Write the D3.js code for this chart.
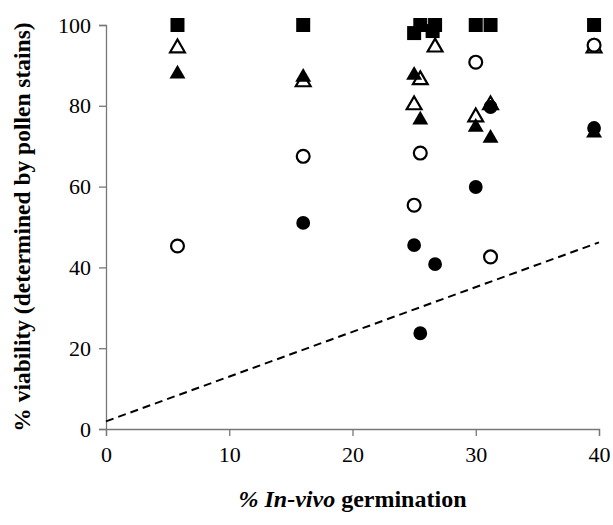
<!DOCTYPE html>
<html>
<head>
<meta charset="utf-8">
<script src="https://cdn.jsdelivr.net/npm/d3@7/dist/d3.min.js"></script>
<style>
  body { margin: 0; background: #fff; }
  svg { display: block; }
</style>
</head>
<body>
<div id="chart"></div>
<script>
// Data: [% in-vivo germination, % viability]
const filledSquares = [[5.8, 100], [16, 100], [25.0, 98], [25.5, 100], [26.7, 100], [26.5, 98.5], [30.0, 100], [31.2, 100], [39.6, 100]];
const openTriangles = [[5.8, 94.3], [16, 85.9], [25.0, 80.2], [25.5, 86.4], [26.7, 94.5], [30.0, 77.2], [31.2, 80.2], [39.6, 94.3]];
const filledTriangles = [[5.8, 87.9], [16, 87.1], [25.0, 87.6], [25.5, 76.5], [30.0, 74.7], [31.2, 72], [39.6, 73.3]];
const openCircles = [[5.8, 45.3], [16, 67.5], [25.0, 55.4], [25.5, 68.3], [30.0, 90.8], [31.2, 42.6], [39.6, 95]];
const filledCircles = [[16, 51], [25.0, 45.5], [25.5, 23.7], [26.7, 40.8], [30.0, 59.9], [31.2, 79.7], [39.6, 74.5]];
const refLine = [[0, 1.9], [40, 46.2]];

const xTicks = [0, 10, 20, 30, 40];
const yTicks = [0, 20, 40, 60, 80, 100];

const width = 613, height = 525;
const margin = { top: 25, right: 14, bottom: 96, left: 106 };

const svg = d3.select('#chart').append('svg')
    .attr('width', width)
    .attr('height', height);

const x = d3.scaleLinear().domain([0, 40]).range([margin.left, width - margin.right]);
const y = d3.scaleLinear().domain([0, 100]).range([height - margin.bottom, margin.top]);

const font = '"Liberation Serif", "Times New Roman", serif';

// Axes
const xAxis = svg.append('g')
    .attr('transform', `translate(0,${y(0)})`)
    .call(d3.axisBottom(x).tickValues(xTicks).tickSize(7).tickPadding(10).tickFormat(d3.format('d')));
const yAxis = svg.append('g')
    .attr('transform', `translate(${x(0)},0)`)
    .call(d3.axisLeft(y).tickValues(yTicks).tickSize(7).tickPadding(8).tickFormat(d3.format('d')));

[xAxis, yAxis].forEach(a => {
    a.select('.domain').attr('stroke', '#777').attr('stroke-width', 1.3);
    a.selectAll('.tick line').attr('stroke', '#777').attr('stroke-width', 1.3);
    a.selectAll('.tick text')
        .attr('fill', '#000')
        .style('font-family', font)
        .style('font-size', '22px');
});

// Dashed reference line
svg.append('line')
    .attr('x1', x(refLine[0][0])).attr('y1', y(refLine[0][1]))
    .attr('x2', x(refLine[1][0])).attr('y2', y(refLine[1][1]))
    .attr('stroke', '#000')
    .attr('stroke-width', 2)
    .attr('stroke-dasharray', '8,5');

// Markers (drawing order matches the overlaps in the reference)
const series = [
    { data: openTriangles, type: d3.symbolTriangle, size: 95, fill: '#fff' },
    { data: filledTriangles, type: d3.symbolTriangle, size: 110, fill: '#000' },
    { data: openCircles, type: d3.symbolCircle, size: 130, fill: '#fff' },
    { data: filledCircles, type: d3.symbolCircle, size: 150, fill: '#000' },
    { data: filledSquares, type: d3.symbolSquare, size: 196, fill: '#000' },
];

series.forEach(s => {
    svg.append('g').selectAll('path')
        .data(s.data)
        .join('path')
        .attr('transform', d => `translate(${x(d[0])},${y(d[1])})`)
        .attr('d', d3.symbol().type(s.type).size(s.size))
        .attr('fill', s.fill)
        .attr('stroke', '#000')
        .attr('stroke-width', s.fill === '#fff' ? 2.2 : 0);
});

// Axis titles
const xTitle = svg.append('text')
    .attr('x', (x(0) + x(40)) / 2)
    .attr('y', 507)
    .attr('text-anchor', 'middle')
    .style('font-family', font)
    .style('font-size', '24px')
    .style('font-weight', 'bold');
xTitle.append('tspan').style('font-style', 'italic').text('% In-vivo');
xTitle.append('tspan').text('  germination');

svg.append('text')
    .attr('transform', `translate(30,${(y(0) + y(100)) / 2}) rotate(-90)`)
    .attr('text-anchor', 'middle')
    .style('font-family', font)
    .style('font-size', '23.5px')
    .style('font-weight', 'bold')
    .text('% viability (determined by pollen stains)');
</script>
</body>
</html>
